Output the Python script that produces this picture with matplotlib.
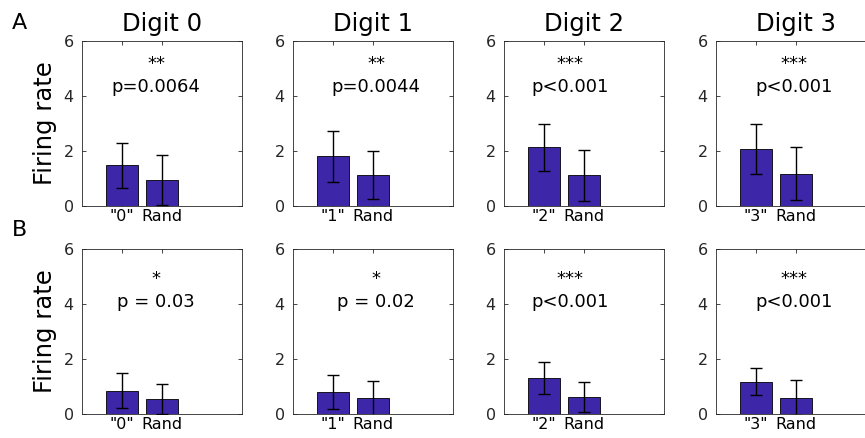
import numpy as np
import matplotlib.pyplot as plt

plt.rcParams['font.family'] = 'DejaVu Sans'

digits = ['0', '1', '2', '3']
bar_labels = [['"%s"' % d, 'Rand'] for d in digits]

# row A
a_means = [[1.48, 0.96], [1.81, 1.14], [2.13, 1.11], [2.07, 1.18]]
a_errs = [[0.82, 0.91], [0.93, 0.87], [0.85, 0.93], [0.91, 0.98]]
a_stars = ['**', '**', '***', '***']
a_pvals = ['p=0.0064', 'p=0.0044', 'p<0.001', 'p<0.001']

# row B
b_means = [[0.85, 0.55], [0.80, 0.57], [1.32, 0.61], [1.18, 0.59]]
b_errs = [[0.65, 0.54], [0.61, 0.63], [0.58, 0.55], [0.50, 0.64]]
b_stars = ['*', '*', '***', '***']
b_pvals = ['p = 0.03', 'p = 0.02', 'p<0.001', 'p<0.001']

bar_color = '#3E26A8'
axis_gray = '#262626'

# text x position (data units) for each column
text_x = [1.85, 2.08, 1.65, 1.95]

fig = plt.figure(figsize=(8.65, 4.38), dpi=100)

lefts = [0.0948, 0.3387, 0.5827, 0.8277]
width = 0.185
height = 0.3767
bottoms = [0.5297, 0.0548]

rows = [(a_means, a_errs, a_stars, a_pvals, 5.18, 4.31),
        (b_means, b_errs, b_stars, b_pvals, 4.92, 4.07)]

for r, (means, errs, stars, pvals, star_y, p_y) in enumerate(rows):
    for c in range(4):
        ax = fig.add_axes([lefts[c], bottoms[r], width, height])
        x = np.arange(1, 3)
        ax.bar(x, means[c], width=0.8, color=bar_color, edgecolor='black', linewidth=0.6, zorder=2)
        ax.errorbar(x, means[c], yerr=errs[c], fmt='none', ecolor='black',
                    elinewidth=1.0, capsize=4, capthick=1.0, zorder=3)
        ax.set_xlim(0, 4)
        ax.set_ylim(0, 6)
        ax.set_yticks([0, 2, 4, 6])
        ax.set_xticks(x)
        ax.set_xticklabels(bar_labels[c], fontsize=11.5)
        ax.tick_params(axis='both', direction='in', length=3, width=0.6,
                       top=True, right=True, colors=axis_gray, labelsize=11.5)
        ax.tick_params(axis='y', pad=6)
        ax.tick_params(axis='x', labelcolor='black', pad=2)
        for s in ax.spines.values():
            s.set_color(axis_gray)
            s.set_linewidth(0.6)
        ax.text(text_x[c], star_y, stars[c], ha='center', va='center', fontsize=13)
        ax.text(text_x[c], p_y, pvals[c], ha='center', va='center', fontsize=13)
        if r == 0:
            ax.set_title('Digit %s' % digits[c], fontsize=17.5, pad=7)
        if c == 0:
            ax.set_ylabel('Firing rate', fontsize=17.5, labelpad=5)

fig.text(0.023, 0.948, 'A', fontsize=16, ha='center', va='center')
fig.text(0.023, 0.475, 'B', fontsize=16, ha='center', va='center')

fig.savefig('out.png', dpi=100)
